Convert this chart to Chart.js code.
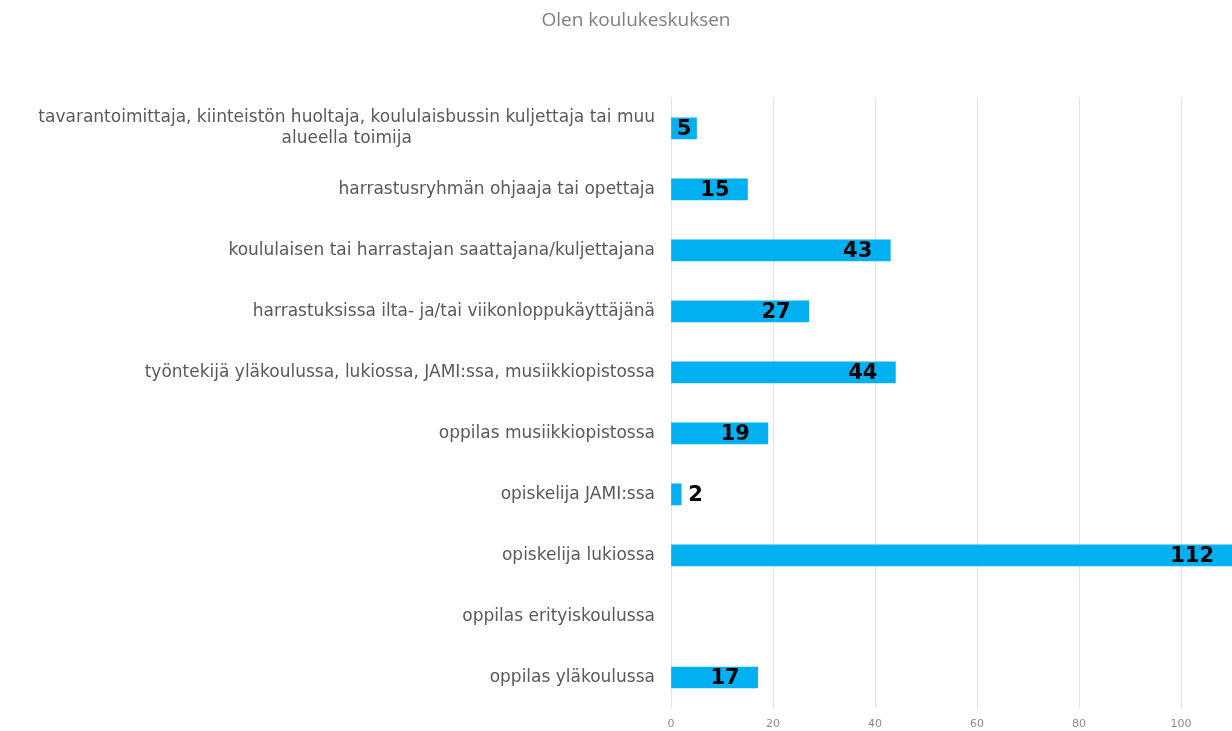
<!DOCTYPE html>
<html>
<head>
<meta charset="utf-8">
<script src="https://cdn.jsdelivr.net/npm/chart.js@4/dist/chart.umd.min.js"></script>
<style>
html,body{margin:0;padding:0;background:#fff;}
#wrap{width:1232px;height:731px;}
</style>
</head>
<body>
<div id="wrap"><canvas id="c" width="1232" height="731"></canvas></div>
<script>
const categories = [
  ['tavarantoimittaja, kiinteistön huoltaja, koululaisbussin kuljettaja tai muu', 'alueella toimija'],
  'harrastusryhmän ohjaaja tai opettaja',
  'koululaisen tai harrastajan saattajana/kuljettajana',
  'harrastuksissa ilta- ja/tai viikonloppukäyttäjänä',
  'työntekijä yläkoulussa, lukiossa, JAMI:ssa, musiikkiopistossa',
  'oppilas musiikkiopistossa',
  'opiskelija JAMI:ssa',
  'opiskelija lukiossa',
  'oppilas erityiskoulussa',
  'oppilas yläkoulussa'
];
const values = [5, 15, 43, 27, 44, 19, 2, 112, null, 17];
const xTickValues = [0, 20, 40, 60, 80, 100];
const subtitleText = 'Olen koulukeskuksen';

const labelFont = '17px "DejaVu Sans"';
const valueFont = 'bold 21px "DejaVu Sans"';

const categoryLabels = {
  id: 'categoryLabels',
  afterDraw(chart) {
    const ctx = chart.ctx;
    const ys = chart.scales.y;
    const rightX = chart.chartArea.left - 16;
    ctx.save();
    ctx.font = labelFont;
    ctx.fillStyle = '#595959';
    ctx.textBaseline = 'middle';
    categories.forEach((lab, i) => {
      const y = ys.getPixelForValue(i);
      if (Array.isArray(lab)) {
        const w = Math.max(...lab.map(l => ctx.measureText(l).width));
        const lh = 21;
        const y0 = y - (lab.length - 1) * lh / 2;
        ctx.textAlign = 'center';
        lab.forEach((l, k) => ctx.fillText(l, rightX - w / 2, y0 + k * lh));
      } else {
        ctx.textAlign = 'right';
        ctx.fillText(lab, rightX, y);
      }
    });
    ctx.restore();
  }
};

const valueLabels = {
  id: 'valueLabels',
  afterDatasetsDraw(chart) {
    const ctx = chart.ctx;
    const meta = chart.getDatasetMeta(0);
    const area = chart.chartArea;
    ctx.save();
    ctx.font = valueFont;
    ctx.fillStyle = '#000';
    ctx.textBaseline = 'middle';
    meta.data.forEach((bar, i) => {
      const v = values[i];
      if (v === null || v === 0) return;
      const txt = String(v);
      const tw = ctx.measureText(txt).width;
      const end = Math.min(bar.x, area.right);
      const start = bar.base;
      const bw = end - start;
      if (tw + 6 <= bw) {
        const off = Math.min(18, (bw - tw) / 2);
        ctx.textAlign = 'right';
        ctx.fillText(txt, end - off, bar.y + 1);
      } else {
        ctx.textAlign = 'left';
        ctx.fillText(txt, end + 7, bar.y + 1);
      }
    });
    ctx.restore();
  }
};

new Chart(document.getElementById('c'), {
  type: 'bar',
  data: {
    labels: categories,
    datasets: [{
      data: values,
      backgroundColor: '#00B0F0',
      borderWidth: 0,
      barThickness: 21
    }]
  },
  options: {
    indexAxis: 'y',
    responsive: false,
    animation: false,
    devicePixelRatio: 1,
    layout: { padding: { left: 40, right: 0, top: 0, bottom: 0 } },
    plugins: {
      legend: { display: false },
      tooltip: { enabled: false },
      title: {
        display: true,
        text: subtitleText,
        color: '#7f7f7f',
        font: { family: '"Open Sans", "DejaVu Sans"', size: 19, weight: 'normal' },
        padding: { top: 9, bottom: 66 }
      }
    },
    scales: {
      x: {
        min: 0,
        max: 110,
        ticks: {
          stepSize: 20,
          color: '#8c8c8c',
          font: { family: '"DejaVu Sans"', size: 11 },
          padding: 10
        },
        afterBuildTicks(scale) {
          scale.ticks = xTickValues.map(v => ({ value: v }));
        },
        afterFit(scale) { scale.height = 23; },
        grid: { color: '#e3e3e3', drawTicks: false, lineWidth: 1 },
        border: { display: false }
      },
      y: {
        display: true,
        ticks: { display: false },
        grid: { display: false, drawTicks: false },
        border: { display: false },
        afterFit(scale) { scale.width = 631; }
      }
    }
  },
  plugins: [categoryLabels, valueLabels]
});
</script>
</body>
</html>
